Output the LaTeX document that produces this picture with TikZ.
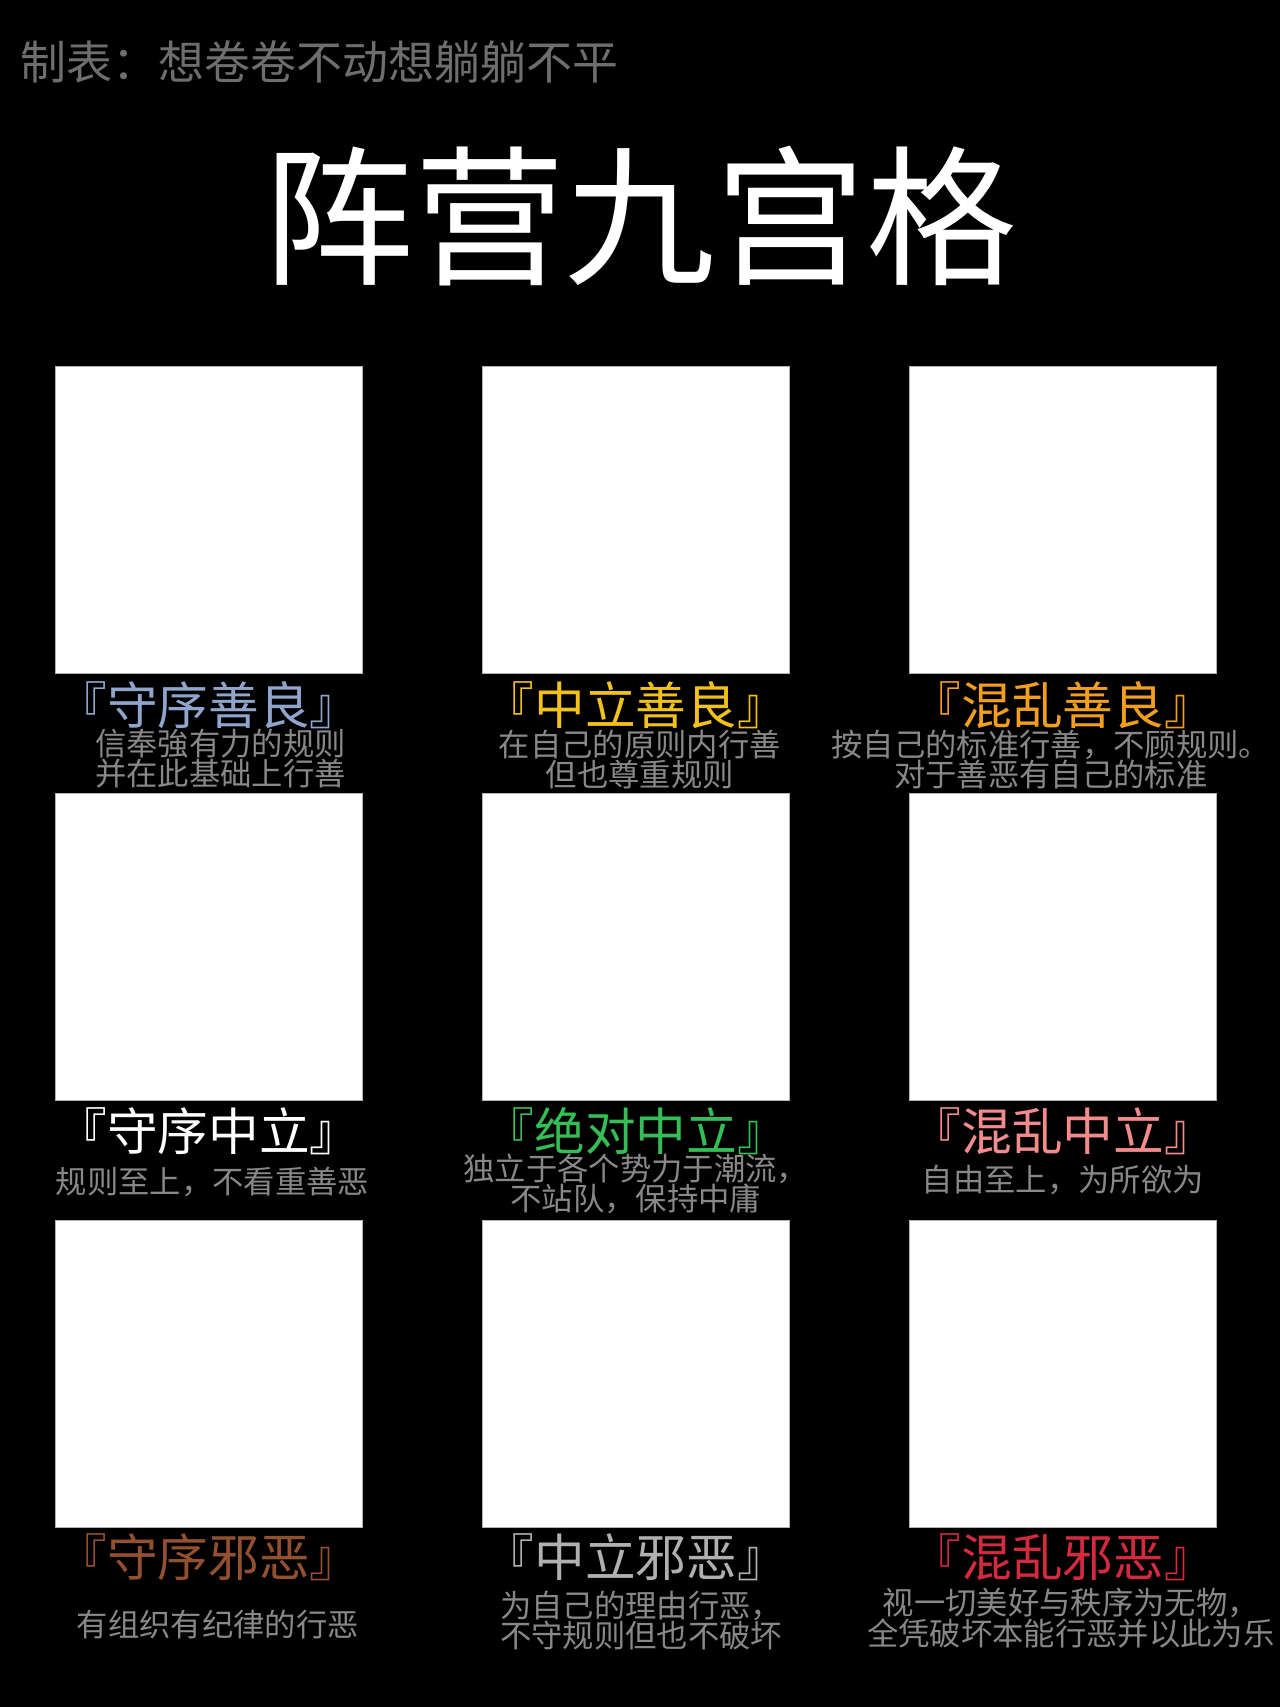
\documentclass[tikz,border=0pt]{standalone}
\usepackage{fontspec}
\newfontfamily\cjk{Noto Sans CJK SC}
\usetikzlibrary{positioning}

\definecolor{headgray}{HTML}{6E6E6E}
\definecolor{descgray}{HTML}{888888}
\definecolor{cLG}{HTML}{8FA5CC}
\definecolor{cNG}{HTML}{F2C21A}
\definecolor{cCG}{HTML}{F29E1E}
\definecolor{cLN}{HTML}{FFFFFF}
\definecolor{cTN}{HTML}{34BE55}
\definecolor{cCN}{HTML}{F28C8C}
\definecolor{cLE}{HTML}{93502E}
\definecolor{cNE}{HTML}{B0B0B0}
\definecolor{cCE}{HTML}{D42A3E}

\begin{document}
\begin{tikzpicture}[
  x=0.75pt, y=-0.75pt,
  node distance=90pt and 90pt,
  cell/.style={draw=gray!60, fill=white, minimum size=230pt, inner sep=0pt, line width=0.4pt},
  tag/.style={font=\cjk\fontsize{38}{40}\selectfont, inner sep=0pt},
  desc/.style={font=\cjk\fontsize{23.5}{22.5}\selectfont, text=descgray, align=center, inner sep=0pt}
]
  \fill[black] (0,0) rectangle (1280,1707);
  \useasboundingbox (0,0) rectangle (1280,1707);

  \node[anchor=west, inner sep=0pt, text=headgray, font=\cjk\fontsize{34.5}{34.5}\selectfont] (maker) at (20,62) {制表：想卷卷不动想躺躺不平};
  \node[inner sep=0pt, text=white, font=\cjk\fontsize{113}{113}\selectfont] (title) at (640,216) {阵营九宫格};

  % the nine cells
  \node[cell] (lg) at (208.5,519.5) {};
  \node[cell, right=of lg] (ng) {};
  \node[cell, right=of ng] (cg) {};
  \node[cell, below=of lg] (ln) {};
  \node[cell, right=of ln] (tn) {};
  \node[cell, right=of tn] (cn) {};
  \node[cell, below=of ln] (le) {};
  \node[cell, right=of le] (ne) {};
  \node[cell, right=of ne] (ce) {};

  % good
  \node[tag, text=cLG] (lgT) at ([yshift=-24pt]lg.south) {『守序善良』};
  \node[desc] (lgD) at ([xshift=9pt,yshift=-64.5pt]lg.south) {信奉強有力的规则\\并在此基础上行善};
  \node[tag, text=cNG] (ngT) at ([yshift=-24pt]ng.south) {『中立善良』};
  \node[desc] (ngD) at ([xshift=3pt,yshift=-64.5pt]ng.south) {在自己的原则内行善\\但也尊重规则};
  \node[tag, text=cCG] (cgT) at ([yshift=-24pt]cg.south) {『混乱善良』};
  \node[desc] (cgD) at ([xshift=-9pt,yshift=-64.5pt]cg.south) {按自己的标准行善，不顾规则。\\对于善恶有自己的标准};

  % neutral
  \node[tag, text=cLN] (lnT) at ([yshift=-23pt]ln.south) {『守序中立』};
  \node[desc] (lnD) at ([xshift=3pt,yshift=-61.5pt]ln.south) {规则至上，不看重善恶};
  \node[tag, text=cTN] (tnT) at ([yshift=-23pt]tn.south) {『绝对中立』};
  \node[desc] (tnD) at ([xshift=0pt,yshift=-63pt]tn.south) {独立于各个势力于潮流，\\不站队，保持中庸};
  \node[tag, text=cCN] (cnT) at ([yshift=-23pt]cn.south) {『混乱中立』};
  \node[desc] (cnD) at ([yshift=-60pt]cn.south) {自由至上，为所欲为};

  % evil
  \node[tag, text=cLE] (leT) at ([yshift=-22pt]le.south) {『守序邪恶』};
  \node[desc] (leD) at ([xshift=7pt,yshift=-73pt]le.south) {有组织有纪律的行恶};
  \node[tag, text=cNE] (neT) at ([yshift=-22pt]ne.south) {『中立邪恶』};
  \node[desc] (neD) at ([xshift=4pt,yshift=-70pt]ne.south) {为自己的理由行恶，\\不守规则但也不破坏};
  \node[tag, text=cCE] (ceT) at ([yshift=-22pt]ce.south) {『混乱邪恶』};
  \node[desc] (ceD) at ([xshift=6pt,yshift=-68pt]ce.south) {视一切美好与秩序为无物，\\全凭破坏本能行恶并以此为乐};
\end{tikzpicture}
\end{document}
